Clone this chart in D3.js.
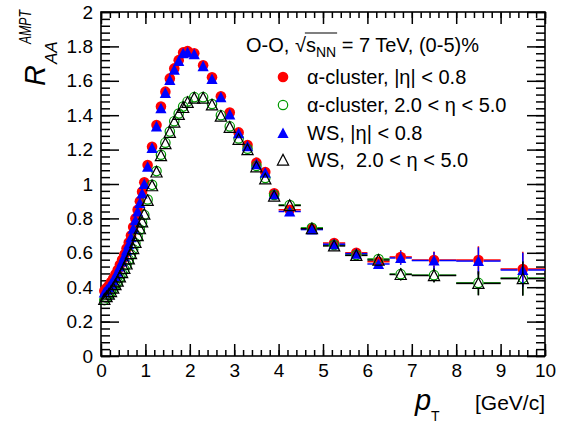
<!DOCTYPE html>
<html>
<head>
<meta charset="utf-8">
<script src="https://cdn.jsdelivr.net/npm/d3@7"></script>
<style>
  body { margin: 0; background: #fff; }
  svg { display: block; font-family: "Liberation Sans", Arial, Helvetica, sans-serif; }
  .axis path.domain { display: none; }
  .axis line { stroke: #000; stroke-width: 1.5; }
  .axis text { font-size: 19px; fill: #000; font-family: "Liberation Sans", Arial, sans-serif; }
</style>
</head>
<body>
<svg width="571" height="423"></svg>
<script>
// pT bin centres and half widths
const pt = [0.075, 0.125, 0.175, 0.225, 0.275, 0.325, 0.375, 0.425, 0.475, 0.525,
            0.575, 0.625, 0.675, 0.725, 0.775, 0.825, 0.875, 0.925, 0.975,
            1.05, 1.15, 1.25, 1.35, 1.45, 1.55, 1.65, 1.75, 1.85, 1.95,
            2.1, 2.3, 2.5, 2.7, 2.9, 3.1, 3.3, 3.5, 3.7, 3.9,
            4.25, 4.75, 5.25, 5.75, 6.25, 6.75, 7.5, 8.5, 9.5];
const ptErr = [0.025, 0.025, 0.025, 0.025, 0.025, 0.025, 0.025, 0.025, 0.025, 0.025,
               0.025, 0.025, 0.025, 0.025, 0.025, 0.025, 0.025, 0.025, 0.025,
               0.05, 0.05, 0.05, 0.05, 0.05, 0.05, 0.05, 0.05, 0.05, 0.05,
               0.1, 0.1, 0.1, 0.1, 0.1, 0.1, 0.1, 0.1, 0.1, 0.1,
               0.25, 0.25, 0.25, 0.25, 0.25, 0.25, 0.5, 0.5, 0.5];

// R_AA values
const alphaMid = [0.38, 0.395, 0.41, 0.43, 0.45, 0.475, 0.50, 0.53, 0.56, 0.59,
                  0.625, 0.66, 0.70, 0.75, 0.80, 0.85, 0.90, 0.955, 1.01,
                  1.11, 1.217, 1.343, 1.45, 1.537, 1.614, 1.672, 1.72, 1.765, 1.773,
                  1.76, 1.69, 1.62, 1.51, 1.415, 1.30, 1.227, 1.124, 1.07, 0.946,
                  0.85, 0.74, 0.657, 0.60, 0.548, 0.576, 0.558, 0.558, 0.506];
const alphaFwd = [0.325, 0.34, 0.355, 0.37, 0.39, 0.41, 0.43, 0.455, 0.48, 0.505,
                  0.53, 0.56, 0.59, 0.62, 0.655, 0.695, 0.735, 0.775, 0.82,
                  0.91, 0.995, 1.075, 1.17, 1.24, 1.305, 1.365, 1.41, 1.45, 1.48,
                  1.505, 1.505, 1.465, 1.40, 1.335, 1.265, 1.205, 1.105, 1.035, 0.936,
                  0.878, 0.745, 0.645, 0.587, 0.564, 0.476, 0.47, 0.425, 0.453];
const wsMid = [0.37, 0.385, 0.40, 0.42, 0.44, 0.465, 0.49, 0.52, 0.55, 0.58,
               0.615, 0.65, 0.69, 0.74, 0.79, 0.84, 0.89, 0.945, 1.0,
               1.10, 1.21, 1.335, 1.44, 1.53, 1.605, 1.665, 1.715, 1.76, 1.765,
               1.755, 1.685, 1.61, 1.505, 1.405, 1.295, 1.22, 1.115, 1.065, 0.94,
               0.84, 0.735, 0.65, 0.595, 0.535, 0.57, 0.555, 0.552, 0.50];
const wsFwd = [0.33, 0.345, 0.36, 0.375, 0.395, 0.415, 0.435, 0.46, 0.485, 0.51,
               0.535, 0.565, 0.595, 0.625, 0.66, 0.70, 0.74, 0.78, 0.825,
               0.905, 0.99, 1.07, 1.165, 1.235, 1.30, 1.36, 1.405, 1.445, 1.475,
               1.50, 1.50, 1.46, 1.395, 1.33, 1.26, 1.20, 1.10, 1.03, 0.93,
               0.875, 0.74, 0.64, 0.585, 0.558, 0.474, 0.468, 0.422, 0.45];

// statistical errors
const errMid = [0.003, 0.003, 0.003, 0.003, 0.003, 0.003, 0.003, 0.003, 0.003, 0.003,
                0.003, 0.003, 0.003, 0.003, 0.003, 0.003, 0.003, 0.003, 0.003,
                0.004, 0.004, 0.004, 0.004, 0.004, 0.004, 0.004, 0.004, 0.004, 0.004,
                0.006, 0.006, 0.006, 0.006, 0.006, 0.006, 0.006, 0.006, 0.006, 0.006,
                0.008, 0.01, 0.012, 0.015, 0.02, 0.04, 0.05, 0.08, 0.1];
const errFwd = [0.003, 0.003, 0.003, 0.003, 0.003, 0.003, 0.003, 0.003, 0.003, 0.003,
                0.003, 0.003, 0.003, 0.003, 0.003, 0.003, 0.003, 0.003, 0.003,
                0.004, 0.004, 0.004, 0.004, 0.004, 0.004, 0.004, 0.004, 0.004, 0.004,
                0.006, 0.006, 0.006, 0.006, 0.006, 0.006, 0.006, 0.006, 0.006, 0.006,
                0.008, 0.01, 0.012, 0.015, 0.02, 0.035, 0.04, 0.07, 0.1];

const xTicks = [0, 1, 2, 3, 4, 5, 6, 7, 8, 9, 10];
const yTicks = [0, 0.2, 0.4, 0.6, 0.8, 1, 1.2, 1.4, 1.6, 1.8, 2];

const series = [
  {label: "α-cluster, |η| < 0.8", vals: alphaMid, err: errMid, shape: "circle", fill: "#ff0000", stroke: "#ff0000"},
  {label: "α-cluster, 2.0 < η < 5.0", vals: alphaFwd, err: errFwd, shape: "circle", fill: "none", stroke: "#009900"},
  {label: "WS, |η| < 0.8", vals: wsMid, err: errMid, shape: "triangle", fill: "#0000ff", stroke: "#0000ff"},
  {label: "WS,  2.0 < η < 5.0", vals: wsFwd, err: errFwd, shape: "triangle", fill: "none", stroke: "#000000"}
];

const svg = d3.select("svg");
const x = d3.scaleLinear().domain([0, 10]).range([101, 545]);
const y = d3.scaleLinear().domain([0, 2]).range([356, 12]);
const fmt = d => String(+d.toFixed(1));

// axes (ROOT style, ticks inside)
const xMinor = d3.range(0, 51).map(i => i / 5);
const yMinor = d3.range(0, 51).map(i => i / 25);

svg.append("g").attr("class", "axis").attr("transform", `translate(0,${y(0)})`)
  .call(d3.axisBottom(x).tickValues(xMinor).tickSize(-6).tickFormat(""));
svg.append("g").attr("class", "axis").attr("transform", `translate(0,${y(0)})`)
  .call(d3.axisBottom(x).tickValues(xTicks).tickSize(-12).tickPadding(8).tickFormat(fmt));
svg.append("g").attr("class", "axis").attr("transform", `translate(0,${y(2)})`)
  .call(d3.axisTop(x).tickValues(xMinor).tickSize(-6).tickFormat(""));
svg.append("g").attr("class", "axis").attr("transform", `translate(0,${y(2)})`)
  .call(d3.axisTop(x).tickValues(xTicks).tickSize(-12).tickFormat(""));

svg.append("g").attr("class", "axis").attr("transform", `translate(${x(0)},0)`)
  .call(d3.axisLeft(y).tickValues(yMinor).tickSize(-9).tickFormat(""));
svg.append("g").attr("class", "axis").attr("transform", `translate(${x(0)},0)`)
  .call(d3.axisLeft(y).tickValues(yTicks).tickSize(-18).tickPadding(8).tickFormat(fmt));
svg.append("g").attr("class", "axis").attr("transform", `translate(${x(10)},0)`)
  .call(d3.axisRight(y).tickValues(yMinor).tickSize(-9).tickFormat(""));
svg.append("g").attr("class", "axis").attr("transform", `translate(${x(10)},0)`)
  .call(d3.axisRight(y).tickValues(yTicks).tickSize(-18).tickFormat(""));

svg.append("rect")
  .attr("x", x(0)).attr("y", y(2))
  .attr("width", x(10) - x(0)).attr("height", y(0) - y(2))
  .attr("fill", "none").attr("stroke", "#000").attr("stroke-width", 1.6);

// markers
const R = 5.3;
function triPath(r) {
  return `M0,${-r}L${r},${r * 0.9}L${-r},${r * 0.9}Z`;
}
function drawMarker(g, s) {
  if (s.shape === "circle") {
    g.append("circle").attr("r", s.fill === "none" ? R - 0.6 : R)
      .attr("fill", s.fill).attr("stroke", s.stroke)
      .attr("stroke-width", s.fill === "none" ? 1.2 : 0);
  } else {
    g.append("path").attr("d", triPath(R + 0.3))
      .attr("fill", s.fill).attr("stroke", s.stroke)
      .attr("stroke-width", s.fill === "none" ? 1.2 : 0);
  }
}

const plot = svg.append("g");
series.forEach(s => {
  const g = plot.append("g");
  const pts = pt.map((p, i) => ({p: p, dp: ptErr[i], v: s.vals[i], dv: s.err[i]}));
  // error bars with a gap around the marker
  pts.forEach(d => {
    const cx = x(d.p), cy = y(d.v);
    const segs = [
      [x(d.p - d.dp), cy, cx - R, cy],
      [cx + R, cy, x(d.p + d.dp), cy],
      [cx, y(d.v - d.dv), cx, cy + R],
      [cx, cy - R, cx, y(d.v + d.dv)]
    ];
    segs.forEach(([x1, y1, x2, y2]) => {
      if (x2 > x1 || y1 > y2) {
        g.append("line").attr("x1", x1).attr("y1", y1).attr("x2", x2).attr("y2", y2)
          .attr("stroke", s.stroke).attr("stroke-width", 1.5);
      }
    });
  });
  pts.forEach(d => {
    const m = g.append("g").attr("transform", `translate(${x(d.p)},${y(d.v)})`);
    drawMarker(m, s);
  });
});

// legend
const hdr = svg.append("text").attr("x", 246).attr("y", 51.5).style("font-size", "20px");
hdr.append("tspan").text("O-O, ");
hdr.append("tspan").text("√");
hdr.append("tspan").text("s");
hdr.append("tspan").attr("dy", 5).style("font-size", "14px").text("NN");
hdr.append("tspan").attr("dy", -5).text(" = 7 TeV, (0-5)%");
const hn = hdr.node();
const ox1 = hn.getStartPositionOfChar(6).x - 1;
const ox2 = hn.getEndPositionOfChar(8).x + 1;
svg.append("line").attr("x1", ox1).attr("x2", ox2).attr("y1", 33).attr("y2", 33)
  .attr("stroke", "#000").attr("stroke-width", 1.1);

const legY = [77, 105, 133, 160];
series.forEach((s, i) => {
  const m = svg.append("g").attr("transform", `translate(283,${legY[i]})`);
  drawMarker(m, s);
  svg.append("text").attr("x", 307).attr("y", legY[i] + 7)
    .style("font-size", "20px").style("white-space", "pre")
    .text(s.label);
});

// axis titles
svg.append("text").attr("x", 415).attr("y", 410)
  .style("font-size", "29px").style("font-style", "italic").text("p");
svg.append("text").attr("x", 431).attr("y", 420.5)
  .style("font-size", "14px").text("T");
svg.append("text").attr("x", x(10)).attr("y", 410)
  .attr("text-anchor", "end").style("font-size", "21px").text("[GeV/c]");

const yt = svg.append("g").attr("transform", "translate(45,0) rotate(-90)");
yt.append("text").attr("x", -86).attr("y", 0)
  .style("font-size", "29px").style("font-style", "italic").text("R");
yt.append("text").attr("x", -64).attr("y", 12)
  .style("font-size", "17px").style("font-style", "italic").text("AA");
yt.append("text").attr("x", -44).attr("y", -14)
  .attr("textLength", 34).attr("lengthAdjust", "spacingAndGlyphs")
  .style("font-size", "17px").style("font-style", "italic").text("AMPT");
</script>
</body>
</html>
